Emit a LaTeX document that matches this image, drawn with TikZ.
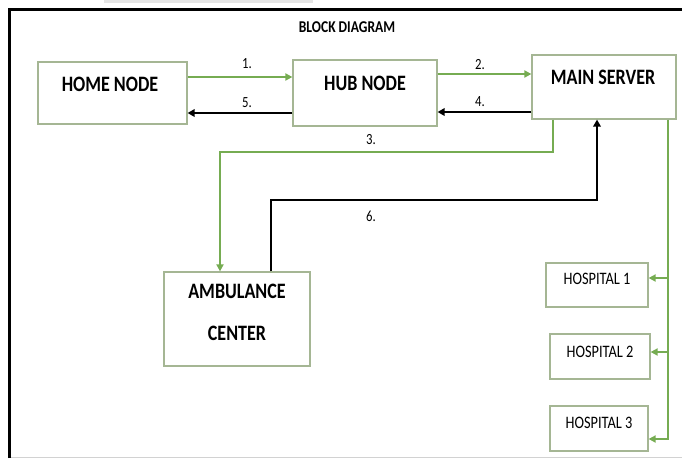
\documentclass[tikz,border=0pt]{standalone}
\usepackage{fontspec}
\setmainfont{Carlito}[FakeStretch=0.82]
\usetikzlibrary{arrows.meta}
\definecolor{lgreen}{RGB}{118,172,82}
\definecolor{boxline}{RGB}{165,182,148}
\tikzset{
  box/.style={draw=boxline, line width=1.2pt, inner sep=0pt},
  bigtxt/.style={font=\fontsize{22}{24}\selectfont\bfseries, inner sep=0pt},
  hostxt/.style={font=\fontsize{17.5}{19}\selectfont, inner sep=0pt},
  numtxt/.style={font=\fontsize{15.5}{17}\selectfont, inner sep=0pt},
  garrow/.style={draw=lgreen, line width=2pt, -{Triangle[length=7pt,width=7pt]}},
  gline/.style={draw=lgreen, line width=2pt},
  barrow/.style={draw=black, line width=2.4pt, -{Triangle[length=7pt,width=7.5pt]}},
}
\begin{document}
\begin{tikzpicture}[x=1pt,y=-1pt]
\useasboundingbox (0,0) rectangle (682,458);
% frame
\fill[gray!20] (104,0) rectangle (313,3);
\draw[gray!35, line width=1pt] (9,457) -- (682,457);
\draw[black, line width=3pt] (9.5,458) -- (9.5,9.5) -- (682,9.5);
\node[font=\fontsize{16.5}{18}\selectfont\bfseries, inner sep=0pt] (title) at (347,27) {BLOCK DIAGRAM};
% boxes
\node[box, minimum width=149pt, minimum height=62pt] (home) at (112.5,93) {};
\node[bigtxt] (homet) at (110,84) {HOME NODE};
\node[box, minimum width=144pt, minimum height=66pt] (hub) at (365,93) {};
\node[bigtxt] (hubt) at (365,83) {HUB NODE};
\node[box, minimum width=144pt, minimum height=64pt] (main) at (604,87) {};
\node[bigtxt] (maint) at (603,77) {MAIN SERVER};
\node[box, minimum width=146pt, minimum height=94pt] (amb) at (237,319) {};
\node[bigtxt] (ambt1) at (237,291) {AMBULANCE};
\node[bigtxt] (ambt2) at (237,333) {CENTER};
\node[box, minimum width=102pt, minimum height=44pt] (h1) at (597,285) {};
\node[hostxt] (h1t) at (597,279) {HOSPITAL 1};
\node[box, minimum width=100pt, minimum height=45pt] (h2) at (600,356.5) {};
\node[hostxt] (h2t) at (600,352) {HOSPITAL 2};
\node[box, minimum width=98pt, minimum height=45pt] (h3) at (599,428.5) {};
\node[hostxt] (h3t) at (599,423) {HOSPITAL 3};
% horizontal arrows
\draw[garrow] ([yshift=16pt]home.east) -- ([yshift=16pt]home.east -| hub.west);
\draw[barrow] ([yshift=-20pt]hub.west) -- ([yshift=-20pt]hub.west -| home.east);
\draw[garrow] ([yshift=19pt]hub.east) -- ([yshift=19pt]hub.east -| main.west);
\draw[barrow] ([yshift=-25pt]main.west) -- ([yshift=-25pt]main.west -| hub.east);
% arrow 3
\coordinate (k3) at (220,152);
\draw[garrow] ([xshift=-51pt]main.south) |- (k3) -- (amb.north -| k3);
% arrow 6
\coordinate (k6) at (597,200);
\draw[barrow] ([xshift=34pt]amb.north) |- (k6) -- (main.south -| k6);
% hospital bus
\coordinate (k9) at (668,439);
\coordinate (b1) at (668,278);
\coordinate (b2) at (668,352);
\draw[garrow] ([xshift=64pt]main.south) -- (k9) -- (k9 -| h3.east);
\draw[garrow] (b1) -- (b1 -| h1.east);
\draw[garrow] (b2) -- (b2 -| h2.east);
% labels
\node[numtxt] (l1) at (247,64) {1.};
\node[numtxt] (l5) at (247,103) {5.};
\node[numtxt] (l2) at (480,65) {2.};
\node[numtxt] (l4) at (480,102) {4.};
\node[numtxt] (l3) at (371,140) {3.};
\node[numtxt] (l6) at (371,216) {6.};
\end{tikzpicture}
\end{document}
